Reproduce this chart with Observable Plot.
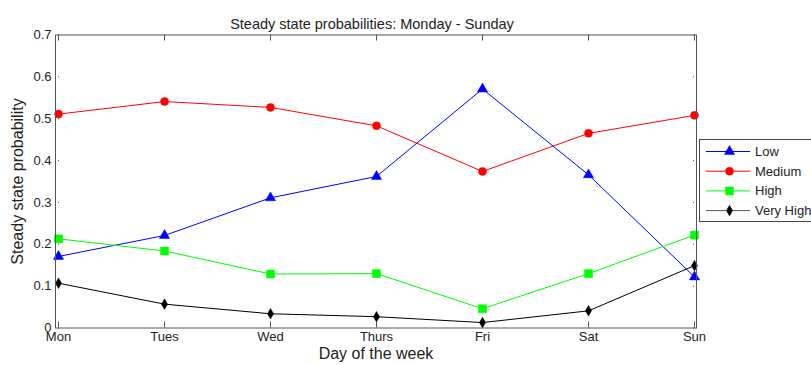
<!DOCTYPE html>
<html>
<head>
<meta charset="utf-8">
<script src="https://cdn.jsdelivr.net/npm/d3@7"></script>
<script src="https://cdn.jsdelivr.net/npm/@observablehq/plot@0.6"></script>
<style>
  html, body { margin: 0; padding: 0; background: #fff; }
  #wrap { position: relative; width: 811px; height: 365px; overflow: hidden; font-family: "Liberation Sans", Arial, sans-serif; }
  #legend { position: absolute; left: 699px; top: 139px; width: 116px; height: 83px; border: 1px solid #444; background: #fff; box-sizing: border-box; }
</style>
</head>
<body>
<div id="wrap"><div id="legend"></div></div>
<script>
const days = ["Mon", "Tues", "Wed", "Thurs", "Fri", "Sat", "Sun"];
const low = [0.171, 0.221, 0.311, 0.362, 0.571, 0.366, 0.122];
const medium = [0.511, 0.541, 0.527, 0.483, 0.374, 0.465, 0.508];
const high = [0.213, 0.184, 0.129, 0.130, 0.046, 0.130, 0.222];
const veryHigh = [0.107, 0.057, 0.034, 0.027, 0.013, 0.041, 0.149];
const seriesNames = ["Low", "Medium", "High", "Very High"];
const yTicks = [0, 0.1, 0.2, 0.3, 0.4, 0.5, 0.6, 0.7];
const titleText = "Steady state probabilities: Monday - Sunday";
const xLabel = "Day of the week";
const yLabel = "Steady state probability";

const seriesValues = [low, medium, high, veryHigh];
const colors = ["#0000ff", "#ff0000", "#00ff00", "#000000"];
const symbols = ["triangle", "circle", "square", "diamond"];
const radii = [3.8, 4, 4.5, 3.2];

const W = 811, H = 365;
const mL = 55, mR = 115, mT = 34.5, mB = 37.5;
const pw = W - mL - mR, ph = H - mT - mB;
const tk = 6;
const axisColor = "#555";
const textColor = "#222";
const fs = 13;

const marks = [];
// inward ticks (left, right, bottom, top)
marks.push(Plot.ruleY(yTicks, {y: d => d, x1: () => days[0], x2: () => days[6], insetRight: pw - tk, stroke: axisColor}));
marks.push(Plot.ruleY(yTicks, {y: d => d, x1: () => days[0], x2: () => days[6], insetLeft: pw - tk, stroke: axisColor}));
marks.push(Plot.ruleX(days, {x: d => d, y1: () => 0.7, y2: () => 0, insetTop: ph - tk, stroke: axisColor}));
marks.push(Plot.ruleX(days, {x: d => d, y1: () => 0.7, y2: () => 0, insetBottom: ph - tk, stroke: axisColor}));

seriesValues.forEach((vals, i) => {
  const rows = days.map((d, j) => ({day: d, value: vals[j]}));
  marks.push(Plot.line(rows, {x: "day", y: "value", stroke: colors[i], strokeWidth: 1}));
  marks.push(Plot.dot(rows, {x: "day", y: "value", symbol: symbols[i], r: radii[i], fill: colors[i], stroke: colors[i], strokeWidth: 0.5}));
});

marks.push(Plot.frame({stroke: axisColor}));
marks.push(Plot.axisY(yTicks, {tickSize: 0, tickPadding: 4, tickFormat: d => d === 0 ? "0" : d3.format(".1f")(d), fill: textColor, fontSize: fs, label: null}));
marks.push(Plot.axisX(days, {tickSize: 0, tickPadding: 4, fill: textColor, fontSize: fs, label: null}));
marks.push(Plot.text([titleText], {text: d => d, frameAnchor: "top", dy: -16, dx: -4, fill: textColor, fontSize: 14.5}));
marks.push(Plot.text([xLabel], {text: d => d, frameAnchor: "bottom", dy: 31, fill: textColor, fontSize: 16}));
marks.push(Plot.text([yLabel], {text: d => d, frameAnchor: "left", textAnchor: "middle", dx: -38, rotate: -90, fill: textColor, fontSize: 16}));

const chart = Plot.plot({
  width: W, height: H,
  marginLeft: mL, marginRight: mR, marginTop: mT, marginBottom: mB,
  style: {fontFamily: "'Liberation Sans', Arial, sans-serif", background: "#fff", overflow: "visible"},
  x: {type: "point", domain: days, padding: 0, axis: null},
  y: {domain: [0, 0.7], axis: null},
  marks
});
document.getElementById("wrap").insertBefore(chart, document.getElementById("legend"));

// legend
const lg = d3.select("#legend").append("svg").attr("width", 116).attr("height", 83).style("display", "block");
const sym = {triangle: d3.symbolTriangle, circle: d3.symbolCircle, square: d3.symbolSquare, diamond: d3.symbolDiamond};
seriesNames.forEach((name, i) => {
  const y = 11.5 + i * 19.7;
  const g = lg.append("g").attr("transform", `translate(0,${y})`);
  g.append("line").attr("x1", 6).attr("x2", 50).attr("y1", 0).attr("y2", 0).attr("stroke", i === 3 ? "#555" : colors[i]).attr("stroke-width", 1);
  g.append("path").attr("transform", "translate(29.5,0)")
    .attr("d", d3.symbol(sym[symbols[i]], Math.PI * radii[i] * radii[i])())
    .attr("fill", colors[i]).attr("stroke", colors[i]).attr("stroke-width", 0.5);
  g.append("text").attr("x", 55).attr("y", 0).attr("dy", "0.35em").attr("font-size", fs).attr("fill", textColor)
    .style("font-family", "'Liberation Sans', Arial, sans-serif").text(name);
});
</script>
</body>
</html>
